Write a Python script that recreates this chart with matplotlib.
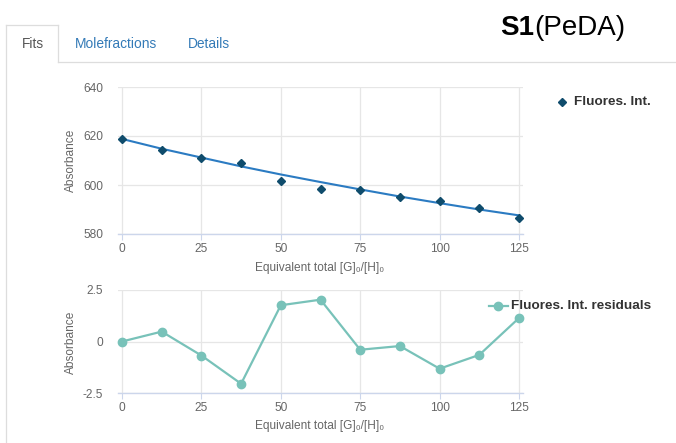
import matplotlib
matplotlib.use("Agg")
import matplotlib.pyplot as plt
from matplotlib.lines import Line2D

plt.rcParams['font.family'] = ['Liberation Sans', 'DejaVu Sans']

# Titration data: guest equivalents, measured intensity, fitted curve, residuals
equivalents = [0, 12.5, 25, 37.5, 50, 62.5, 75, 87.5, 100, 112.5, 125]
fluores_int = [618.8, 614.3, 611.0, 609.0, 601.6, 598.4, 597.9, 595.0, 593.6, 590.5, 586.5]
fluores_fit = [618.8, 614.8, 611.2, 607.6, 604.3, 601.2, 598.2, 595.3, 592.6, 590.0, 587.6]
residuals = [0.0, 0.48, -0.68, -2.05, 1.76, 2.03, -0.40, -0.22, -1.32, -0.65, 1.14]

top_yticks = [580, 600, 620, 640]
bottom_yticks = [-2.5, 0, 2.5]
bottom_yticklabels = ['-2.5', '0', '2.5']
xticks = [0, 25, 50, 75, 100, 125]

series_name = 'Fluores. Int.'
resid_name = 'Fluores. Int. residuals'
x_title = 'Equivalent total [G]\u2080/[H]\u2080'
y_title = 'Absorbance'

W, H = 676, 443
fig = plt.figure(figsize=(W / 100, H / 100), dpi=100)

MARK = '#0f4c6c'
FIT = '#2b7bc2'
TEAL = '#78c2b9'
GRID = '#e6e6e6'
AXIS = '#ccd6eb'
LABEL = '#666666'


def fx(px):
    return px / W


def fy(py):
    return 1 - py / H


def make_axes(top_px, bottom_px):
    left_px, right_px = 118, 523
    ax = fig.add_axes([fx(left_px), fy(bottom_px), fx(right_px - left_px),
                       (bottom_px - top_px) / H])
    pad = 4 / ((519 - 122) / 125)
    ax.set_xlim(-pad, 125 + pad)
    for s in ('top', 'right', 'left'):
        ax.spines[s].set_visible(False)
    ax.spines['bottom'].set_color(AXIS)
    ax.spines['bottom'].set_linewidth(1.0)
    ax.set_xticks(xticks)
    ax.set_xticklabels([str(t) for t in xticks])
    ax.grid(True, color=GRID, linewidth=0.9)
    ax.set_axisbelow(True)
    ax.tick_params(axis='x', length=4, width=0.8, color=AXIS, pad=2.5,
                   labelsize=8.6, labelcolor=LABEL)
    ax.tick_params(axis='y', length=0, pad=10.8, labelsize=8.6, labelcolor=LABEL)
    return ax


# Upper panel: measured intensities and fit
ax1 = make_axes(87, 234)
ax1.set_ylim(580, 640)
ax1.set_yticks(top_yticks)
ax1.plot(equivalents, fluores_fit, color=FIT, linewidth=1.5, zorder=3)
ax1.plot(equivalents, fluores_int, linestyle='none', marker='D', markersize=4.4,
         color=MARK, zorder=4, clip_on=False)

# Lower panel: residuals
ax2 = make_axes(290, 393)
ax2.set_ylim(-2.5, 2.5)
ax2.set_yticks(bottom_yticks)
ax2.set_yticklabels(bottom_yticklabels)
ax2.plot(equivalents, residuals, color=TEAL, linewidth=1.6, marker='o',
         markersize=6, zorder=3, clip_on=False)

# Axis titles
for cy_x, cy_y in ((268, 160), (426, 342)):
    fig.text(fx(320), fy(cy_x), x_title, ha='center', va='center',
             fontsize=8.6, color=LABEL)
    fig.text(fx(71), fy(cy_y), y_title, ha='center', va='center',
             rotation=90, fontsize=8.6, color=LABEL)

# Legends
fig.add_artist(Line2D([fx(562)], [fy(102)], marker='D', markersize=4.4,
                      color=MARK, linestyle='none', transform=fig.transFigure))
fig.text(fx(574), fy(102), series_name, ha='left', va='center',
         fontsize=9.7, fontweight='bold', color='#333333')
fig.add_artist(Line2D([fx(489), fx(508)], [fy(306), fy(306)], color=TEAL,
                      linewidth=1.6, transform=fig.transFigure))
fig.add_artist(Line2D([fx(498)], [fy(306)], marker='o', markersize=6,
                      color=TEAL, linestyle='none', transform=fig.transFigure))
fig.text(fx(511), fy(306), resid_name, ha='left', va='center',
         fontsize=9.7, fontweight='bold', color='#333333')

# Tab strip
TAB = '#dddddd'
for xs, ys in (([6, 6], [25, H]), ([6, 58], [25, 25]), ([58, 58], [25, 62]),
               ([58, W], [62, 62])):
    fig.add_artist(Line2D([fx(v) for v in xs], [fy(v) for v in ys], color=TAB,
                          linewidth=0.9, transform=fig.transFigure))
fig.text(fx(33), fy(44), 'Fits', ha='center', va='center', fontsize=9.9,
         color='#555555')
fig.text(fx(116), fy(44), 'Molefractions', ha='center', va='center',
         fontsize=9.9, color='#337ab7')
fig.text(fx(209), fy(44), 'Details', ha='center', va='center', fontsize=9.9,
         color='#337ab7')

# Heading
t1 = fig.text(fx(500), fy(35), 'S1', ha='left', va='baseline', fontsize=20,
              fontweight='bold', color='black')
fig.texts.append(plt.Annotation('(PeDA)', xy=(1, 0), xycoords=t1, ha='left',
                                va='bottom', fontsize=20, color='black'))
fig.texts[-1].set_figure(fig)

fig.savefig('out.png', dpi=100)
